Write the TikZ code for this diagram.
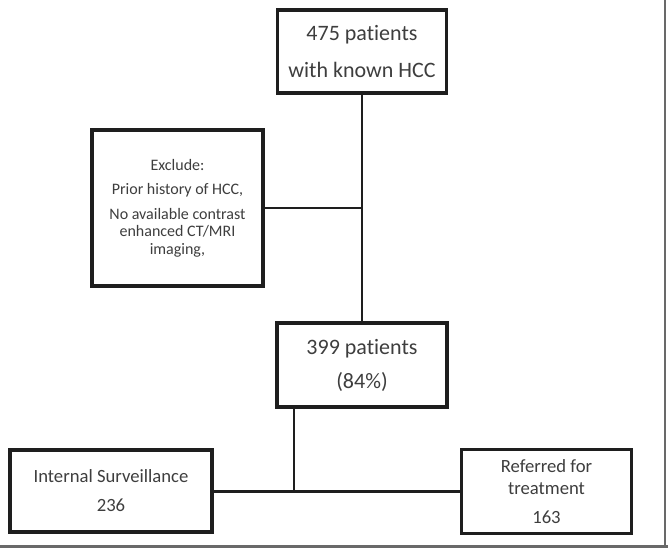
\documentclass[tikz,border=0pt]{standalone}
\usepackage{fontspec}
\setmainfont{Carlito}[Ligatures=NoCommon]
\definecolor{boxline}{RGB}{30,30,30}
\definecolor{boxtext}{RGB}{62,62,62}
\definecolor{framegray}{RGB}{105,105,105}
\tikzset{every picture/.style={line width=0.75pt}}
\tikzset{
  flowbox/.style={draw=boxline, line width=2.3pt, fill=white, align=center, inner sep=0pt, text=boxtext},
  bigtext/.style={font=\fontsize{16.5}{20}\selectfont},
  midtext/.style={font=\fontsize{14}{16}\selectfont},
  smalltext/.style={font=\fontsize{12}{13}\selectfont},
  link/.style={draw=boxline, line width=1.8pt},
}

\begin{document}
\begin{tikzpicture}[x=0.75pt,y=0.75pt,yscale=-1,xscale=1]
				\useasboundingbox (0,0) rectangle (668,548);
				
				%Frame
				\draw [framegray, line width=1.5pt] (665,0) -- (665,546) ;
				\draw [framegray, line width=2.25pt] (0,546.5) -- (668,546.5) ;
				
				%Shape: Rectangle [id:top]
				\node [flowbox, bigtext, minimum width=127pt, minimum height=62.25pt] (top) at (362,51.5) {475 patients\\[7.75pt]with known HCC};
				%Shape: Rectangle [id:excl]
				\node [flowbox, smalltext, minimum width=128.25pt, minimum height=117pt] (excl) at (177.5,208) {Exclude:\\[5pt]Prior history of HCC,\\[5.75pt]No available contrast\\enhanced CT/MRI\\imaging,};
				%Shape: Rectangle [id:mid]
				\node [flowbox, bigtext, minimum width=127.5pt, minimum height=63pt] (mid) at (362,365) {399 patients\\[5.5pt](84\%)};
				%Shape: Rectangle [id:surv]
				\node [flowbox, midtext, minimum width=151.5pt, minimum height=61.5pt] (surv) at (111,491) {Internal Surveillance\\[5.75pt]236};
				%Shape: Rectangle [id:treat]
				\node [flowbox, midtext, minimum width=127.5pt, minimum height=63pt] (treat) at (546.5,491.5) {Referred for\\treatment\\[5.75pt]163};
				
				%Straight Lines
				\coordinate (joinx) at (362,208);
				\coordinate (split) at (294,491.5);
				\draw [link] (top) -- (mid) ;
				\draw [link] (excl.east) -- (joinx) ;
				\draw [link] (mid.south -| split) -- (split) ;
				\draw [link] (surv.east |- split) -- (split) -- (treat.west |- split) ;
				
\end{tikzpicture}
\end{document}
